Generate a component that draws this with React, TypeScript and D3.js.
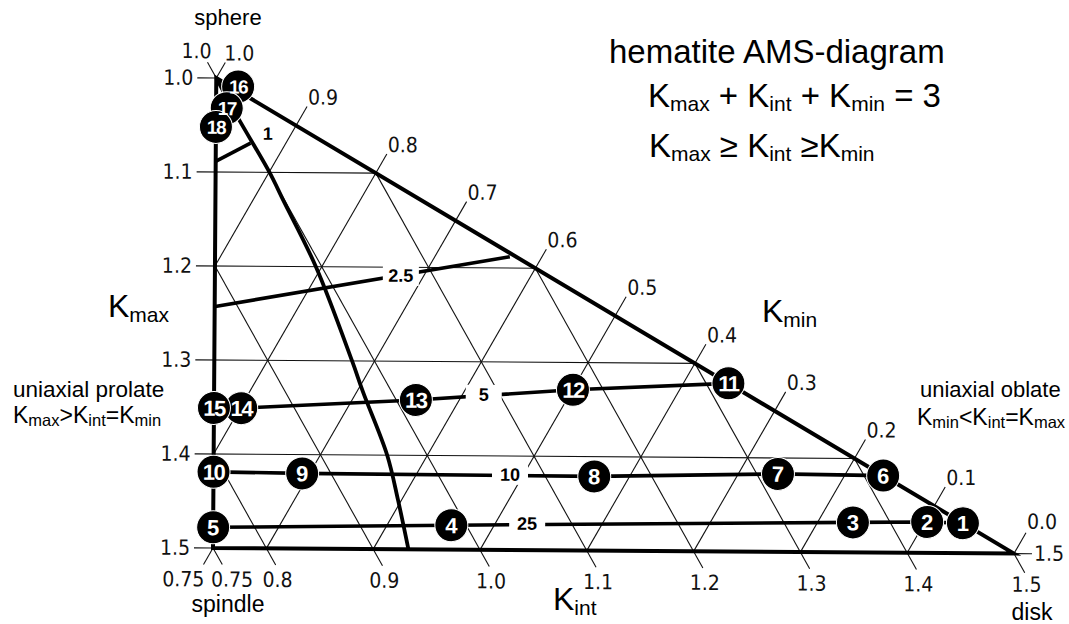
import React from "react";
import * as d3 from "d3";

const WIDTH = 1069;
const HEIGHT = 624;

// Grid / axis levels of the three normalised principal susceptibilities
const kmaxLevels = [1.0, 1.1, 1.2, 1.3, 1.4, 1.5];
const kintLevels = [0.8, 0.9, 1.0, 1.1, 1.2, 1.3, 1.4];
const kminLevels = [0.9, 0.8, 0.7, 0.6, 0.5, 0.4, 0.3, 0.2, 0.1];

// Numbered specimens (Kmax, Kint; Kmin = 3 - Kmax - Kint)
const sampleIds = [1, 2, 3, 4, 5, 6, 7, 8, 9, 10, 11, 12, 13, 14, 15, 16, 17, 18];
const sampleKmax = [1.468, 1.467, 1.468, 1.474, 1.478, 1.418, 1.417, 1.421, 1.42, 1.419, 1.321, 1.329, 1.341, 1.351, 1.351, 1.009, 1.032, 1.052];
const sampleKint = [1.468, 1.435, 1.365, 0.986, 0.761, 1.418, 1.32, 1.146, 0.873, 0.7905, 1.321, 1.1715, 1.0185, 0.85, 0.8245, 1.016, 0.994, 0.974];

// Contours joining specimens
const contour25 = [5, 4, 3, 2, 1];
const contour10 = [10, 9, 8, 7, 6];
const contour5 = [15, 14, 13, 12, 11];
const contour2p5Kmax = [1.243, 1.188];
const contour2p5Kint = [0.879, 1.182];
const contour1Kmax = [1.089, 1.069];
const contour1Kint = [0.955, 0.998];

const contourLabels = ["1", "2.5", "5", "10", "25"];
const contourLabelKmax = [1.059, 1.209, 1.335, 1.42, 1.472];
const contourLabelKint = [1.019, 1.0696, 1.085, 1.0676, 1.058];
const contourLabelGap = [false, true, true, true, true];

// Neutral-shape curve from sphere to the base
const neutralKmax = [1.0, 1.042, 1.1, 1.13, 1.2, 1.3, 1.333, 1.4, 1.448, 1.5];
const neutralKint = [1.0, 0.9995, 1.0005, 0.9987, 0.9945, 0.979, 0.973, 0.9625, 0.949, 0.933];

const SANS = "'Liberation Sans', Arial, Helvetica, sans-serif";
const NARROW = "'Liberation Sans Narrow', 'DejaVu Sans Condensed', 'Arial Narrow', sans-serif";

type Pt = [number, number];

export default function App() {
  const dScale = d3.scaleLinear().domain([0, 1.5]).range([213, 1014]); // Kint - Kmin
  const kScale = d3.scaleLinear().domain([1.0, 1.5]).range([78, 548]); // Kmax

  const project = (kmax: number, kint: number): Pt => {
    const kmin = 3 - kmax - kint;
    return [dScale(kint - kmin), kScale(kmax)];
  };
  const unit = (a: Pt, b: Pt): Pt => {
    const dx = b[0] - a[0];
    const dy = b[1] - a[1];
    const l = Math.hypot(dx, dy);
    return [dx / l, dy / l];
  };
  const along = (p: Pt, u: Pt, len: number): Pt => [p[0] + u[0] * len, p[1] + u[1] * len];
  const neg = (u: Pt): Pt => [-u[0], -u[1]];
  const line = d3.line<Pt>();

  const dirInt = unit(project(1.0, 1.0), project(1.5, 1.0)); // constant Kint, down-right
  const dirMin = unit(project(1.0, 1.25), project(1.5, 0.75)); // constant Kmin, down-left

  const apex = project(1.0, 1.0);
  const leftV = project(1.5, 0.75);
  const rightV = project(1.5, 1.5);

  const f1 = d3.format(".1f");
  const f2 = d3.format(".2f");

  const thin = { stroke: "#111", strokeWidth: 1.1, fill: "none" } as const;
  const tickText = { fontFamily: NARROW, fontSize: 21, fill: "#111" } as const;

  const samplePt = (id: number): Pt => {
    const i = sampleIds.indexOf(id);
    return project(sampleKmax[i], sampleKint[i]);
  };

  // Horizontal Kmax lines with left ticks
  const kmaxEls = kmaxLevels.map((m) => {
    const l = project(m, (3 - m) / 2);
    const r = m === 1.0 ? l : project(m, m);
    const start: Pt = [l[0] - 19, l[1]];
    return (
      <g key={"kmax" + m}>
        <path d={line([start, m === 1.5 ? l : r]) || ""} {...thin} />
        <text x={start[0] - 4} y={l[1] + 7} textAnchor="end" {...tickText}>
          {f1(m)}
        </text>
      </g>
    );
  });

  // Constant Kint lines, ticked below the base
  const kintEls = kintLevels.map((c) => {
    const m0 = Math.max(c, 3 - 2 * c);
    const a = project(m0, c);
    const b = project(1.5, c);
    const e = along(b, dirInt, 19);
    return (
      <g key={"kint" + c}>
        <path d={line([a, e]) || ""} {...thin} />
        <text x={e[0] + 2} y={e[1] + 22} textAnchor="middle" {...tickText}>
          {f1(c)}
        </text>
      </g>
    );
  });

  // Constant Kmin lines, ticked beyond the oblate edge
  const kminEls = kminLevels.map((c) => {
    const mh = (3 - c) / 2;
    const h = project(mh, mh);
    const mEnd = Math.min(1.5, 3 - 2 * c);
    const b = project(mEnd, 3 - c - mEnd);
    const e = along(h, neg(dirMin), 22);
    return (
      <g key={"kmin" + c}>
        <path d={line([e, b]) || ""} {...thin} />
        <text x={e[0] + 1} y={e[1] - 2} {...tickText}>
          {f1(c)}
        </text>
      </g>
    );
  });

  // Corner ticks
  const apexIntEnd = along(apex, neg(dirInt), 18);
  const apexMinEnd = along(apex, neg(dirMin), 18);
  const leftMinEnd = along(leftV, dirMin, 19);
  const leftIntEnd = along(leftV, dirInt, 19);
  const rightMinEnd = along(rightV, neg(dirMin), 24);
  const rightIntEnd = along(rightV, dirInt, 22);
  const rightMaxEnd: Pt = [rightV[0] + 18, rightV[1]];

  const contourPath = (ids: number[]) => line(ids.map(samplePt)) || "";
  const pairPath = (km: number[], ki: number[]) => line(km.map((m, i) => project(m, ki[i]))) || "";

  const neutralPath =
    d3.line<Pt>().curve(d3.curveCatmullRom.alpha(0.5))(neutralKmax.map((m, i) => project(m, neutralKint[i]))) || "";

  const thick = { stroke: "#000", strokeWidth: 3.6, fill: "none", strokeLinecap: "butt" } as const;

  return (
    <svg
      width={WIDTH}
      height={HEIGHT}
      style={{ position: "absolute", left: 0, top: 0, background: "#fff" }}
    >
      <rect x={0} y={0} width={WIDTH} height={HEIGHT} fill="#fff" />
      <g transform="rotate(0.4, 213, 548)">
        {/* grid */}
        {kmaxEls}
        {kintEls}
        {kminEls}

        {/* corner ticks */}
        <path d={line([apex, apexIntEnd]) || ""} {...thin} />
        <text x={apexIntEnd[0] + 4} y={apexIntEnd[1] - 4} textAnchor="end" {...tickText}>
          {f1(1.0)}
        </text>
        <path d={line([apex, apexMinEnd]) || ""} {...thin} />
        <text x={apexMinEnd[0] - 1} y={apexMinEnd[1] - 2} {...tickText}>
          {f1(1.0)}
        </text>
        <path d={line([leftV, leftMinEnd]) || ""} {...thin} />
        <text x={leftMinEnd[0] + 1} y={leftMinEnd[1] + 22} textAnchor="end" {...tickText}>
          {f2(0.75)}
        </text>
        <path d={line([leftV, leftIntEnd]) || ""} {...thin} />
        <text x={leftIntEnd[0] + 10} y={leftIntEnd[1] + 22} textAnchor="middle" {...tickText}>
          {f2(0.75)}
        </text>
        <path d={line([rightV, rightMinEnd]) || ""} {...thin} />
        <text x={rightMinEnd[0] + 1} y={rightMinEnd[1] - 4} {...tickText}>
          {f1(0.0)}
        </text>
        <path d={line([rightV, rightMaxEnd]) || ""} {...thin} />
        <text x={rightMaxEnd[0] + 2} y={rightMaxEnd[1] + 7} {...tickText}>
          {f1(1.5)}
        </text>
        <path d={line([rightV, rightIntEnd]) || ""} {...thin} />
        <text x={rightIntEnd[0] + 2} y={rightIntEnd[1] + 19} textAnchor="middle" {...tickText}>
          {f1(1.5)}
        </text>

        {/* contours */}
        <path d={contourPath(contour25)} {...thick} />
        <path d={contourPath(contour10)} {...thick} />
        <path d={contourPath(contour5)} {...thick} />
        <path d={pairPath(contour2p5Kmax, contour2p5Kint)} {...thick} />
        <path d={pairPath(contour1Kmax, contour1Kint)} {...thick} />

        {/* label gaps */}
        {contourLabels.map((t, i) => {
          if (!contourLabelGap[i]) return null;
          const p = project(contourLabelKmax[i], contourLabelKint[i]);
          return <rect key={"gap" + t} x={p[0] - 18} y={p[1] - 10} width={36} height={20} fill="#fff" />;
        })}

        {/* triangle */}
        <path d={(line([apex, leftV, rightV]) || "") + "Z"} stroke="#000" strokeWidth={4} fill="none" strokeLinejoin="miter" />

        {/* neutral-shape curve */}
        <path d={neutralPath} {...thick} strokeWidth={3.8} />

        {/* contour labels */}
        {contourLabels.map((t, i) => {
          const p = project(contourLabelKmax[i], contourLabelKint[i]);
          return (
            <text
              key={"lab" + t}
              x={p[0]}
              y={p[1] + 6}
              textAnchor="middle"
              fontFamily={SANS}
              fontWeight="bold"
              fontSize={18}
              fill="#000"
            >
              {t}
            </text>
          );
        })}

        {/* specimens: discs first, then numbers so that none is hidden */}
        {sampleIds.map((id) => {
          const p = samplePt(id);
          return <circle key={"c" + id} cx={p[0]} cy={p[1]} r={16.5} fill="#000" stroke="#fff" strokeWidth={1} />;
        })}
        {sampleIds.map((id) => {
          const p = samplePt(id);
          const small = id >= 16;
          return (
            <text
              key={"t" + id}
              x={p[0]}
              y={p[1] + (small ? 7 : 8)}
              textAnchor="middle"
              fontFamily={SANS}
              fontWeight="bold"
              fontSize={small ? 19 : 22}
              letterSpacing={id > 9 ? -1.5 : 0}
              fill="#fff"
            >
              {id}
            </text>
          );
        })}
      </g>

      {/* titles and annotations */}
      <g fontFamily={SANS} fill="#000">
        <text x={609} y={63} fontSize={33}>
          hematite AMS-diagram
        </text>
        <text x={648} y={107} fontSize={33}>
          K<tspan fontSize={21} dy={4}>max</tspan>
          <tspan dy={-4}>{" + K"}</tspan>
          <tspan fontSize={21} dy={4}>int</tspan>
          <tspan dy={-4}>{" + K"}</tspan>
          <tspan fontSize={21} dy={4}>min</tspan>
          <tspan dy={-4}>{" = 3"}</tspan>
        </text>
        <text x={649} y={157} fontSize={33}>
          K<tspan fontSize={21} dy={4}>max</tspan>
          <tspan dy={-4}>{" \u2265 K"}</tspan>
          <tspan fontSize={21} dy={4}>int</tspan>
          <tspan dy={-4}>{" \u2265K"}</tspan>
          <tspan fontSize={21} dy={4}>min</tspan>
        </text>

        <text x={108} y={317} fontSize={32}>
          K<tspan fontSize={21} dy={5}>max</tspan>
        </text>
        <text x={762} y={322} fontSize={32}>
          K<tspan fontSize={21} dy={5}>min</tspan>
        </text>
        <text x={553} y={610} fontSize={32}>
          K<tspan fontSize={21} dy={5}>int</tspan>
        </text>

        <text x={228} y={25} fontSize={22} textAnchor="middle">
          sphere
        </text>
        <text x={228} y={612} fontSize={23} textAnchor="middle">
          spindle
        </text>
        <text x={1032} y={620} fontSize={23} textAnchor="middle">
          disk
        </text>

        <text x={13} y={397} fontSize={22.5}>
          uniaxial prolate
        </text>
        <text x={13} y={423} fontSize={23}>
          K<tspan fontSize={16.5} dy={3}>max</tspan>
          <tspan dy={-3}>{">K"}</tspan>
          <tspan fontSize={16.5} dy={3}>int</tspan>
          <tspan dy={-3}>{"=K"}</tspan>
          <tspan fontSize={16.5} dy={3}>min</tspan>
        </text>

        <text x={920} y={397} fontSize={22}>
          uniaxial oblate
        </text>
        <text x={917} y={425} fontSize={23}>
          K<tspan fontSize={16.5} dy={3}>min</tspan>
          <tspan dy={-3}>{"<K"}</tspan>
          <tspan fontSize={16.5} dy={3}>int</tspan>
          <tspan dy={-3}>{"=K"}</tspan>
          <tspan fontSize={16.5} dy={3}>max</tspan>
        </text>
      </g>
    </svg>
  );
}
